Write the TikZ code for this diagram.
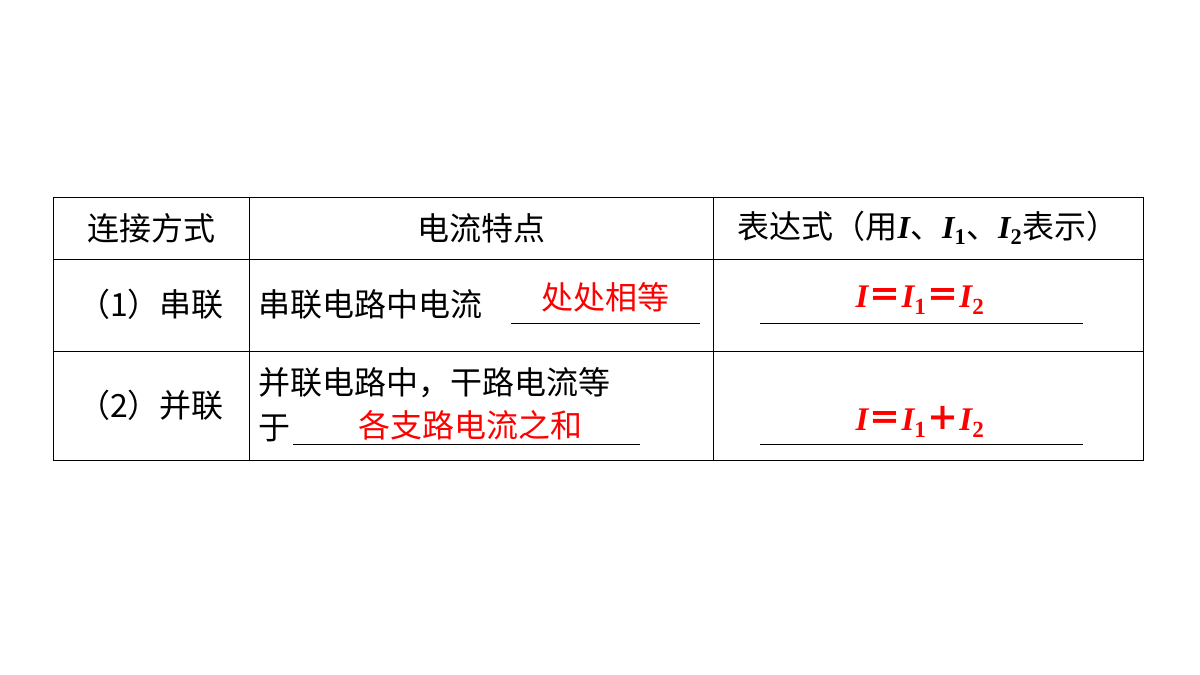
\documentclass[tikz,border=0pt]{standalone}
\usepackage{fontspec}
\setmainfont{Liberation Serif}
\newfontfamily\cjk{Noto Sans CJK SC}
\usetikzlibrary{positioning}
\tikzset{
  cell/.style={font=\cjk\fontsize{32}{36}\selectfont, inner sep=0pt},
  ans/.style={font=\cjk\fontsize{32}{36}\selectfont, text=red, inner sep=0pt},
  frm/.style={font=\rmfamily\bfseries\fontsize{33}{36}\selectfont, text=red, inner sep=0pt},
  blank/.style={line width=1pt}
}
\newcommand{\ivar}[1]{{\rmfamily\bfseries\itshape I}\textsubscript{\rmfamily\bfseries\upshape #1}}
\newcommand{\ibare}{{\rmfamily\bfseries\itshape I}}
\begin{document}
\begin{tikzpicture}[x=1pt, y=-1pt]
  \useasboundingbox (0,0) rectangle (1200,675);
  % table grid
  \draw[line width=1pt] (53,197) rectangle (1143,460);
  \foreach \yy in {259,351} \draw[line width=1pt] (53,\yy) -- (1143,\yy);
  \foreach \xx in {249,713} \draw[line width=1pt] (\xx,197) -- (\xx,460);
  % header
  \node (h1) [cell] at (151,228) {连接方式};
  \node (h2) [cell] at (481,228) {电流特点};
  \node (h3) [cell] at (928,228) {表达式（用\ibare、\ivar{1}、\ivar{2}表示）};
  % series row
  \node (s1) [cell] at (151,304) {（1）串联};
  \node (s2) [cell, anchor=west] at (258,304) {串联电路中电流};
  \draw[blank] (511,323) -- (700,323);
  \node (s3) [ans] at (605,297) {处处相等};
  \draw[blank] (760,323) -- (1083,323);
  \node (s4) [frm] at (920,300) {\ibare{\cjk＝}\ivar{1}{\cjk＝}\ivar{2}};
  % parallel row
  \node (p1) [cell] at (151,405) {（2）并联};
  \node (p2) [cell, anchor=west] at (258,383) {并联电路中，干路电流等};
  \node (p3) [cell, anchor=west] at (258,428) {于};
  \draw[blank] (293,444) -- (640,444);
  \node (p4) [ans] at (470,425) {各支路电流之和};
  \draw[blank] (760,444) -- (1083,444);
  \node (p5) [frm] at (920,422) {\ibare{\cjk＝}\ivar{1}{\cjk＋}\ivar{2}};
\end{tikzpicture}
\end{document}
